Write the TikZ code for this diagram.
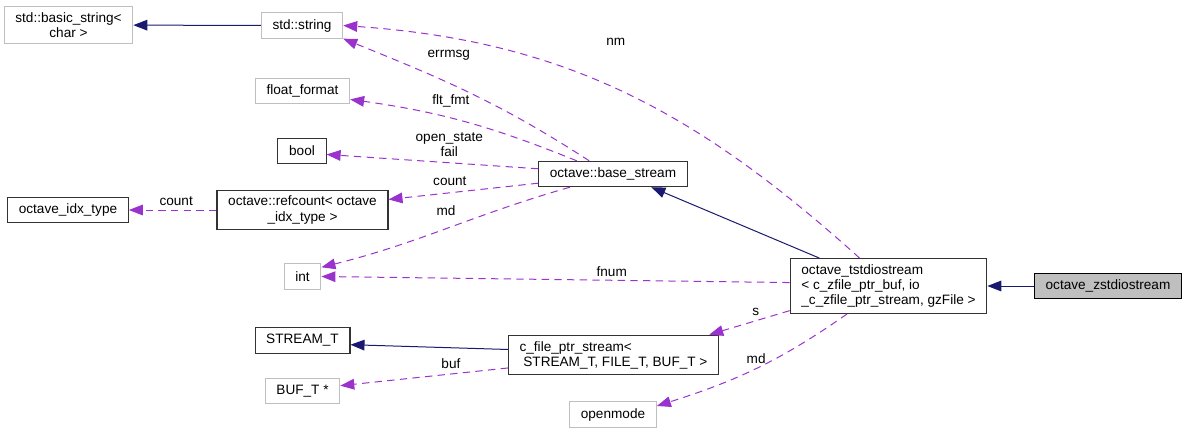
\documentclass[tikz,border=0pt]{standalone}
\usepackage{fontspec}
\setmainfont{Liberation Sans}
\usetikzlibrary{arrows.meta}
\definecolor{edgeviolet}{HTML}{9A32CD}
\definecolor{edgenavy}{HTML}{191970}
\definecolor{boxgrey}{HTML}{BFBFBF}
\tikzset{
  box/.style={
    rectangle, draw=black!80, line width=0.8pt, align=center,
    font=\fontsize{10.2}{11.3}\selectfont, inner xsep=8.4pt,
    inner ysep=4.5pt, minimum height=19pt},
  greybox/.style={box, draw=boxgrey},
  mainbox/.style={box, draw=black, fill=boxgrey},
  inherits/.style={-{Triangle[length=10.5pt,width=8pt]}, draw=edgenavy,
    line width=0.75pt},
  uses/.style={-{Triangle[length=10.5pt,width=8pt]}, draw=edgeviolet,
    dash pattern=on 5.5pt off 4pt, line width=0.75pt},
  lbl/.style={font=\fontsize{10.2}{11.3}\selectfont, text=black,
    inner sep=0pt, align=center}
}
\begin{document}
\begin{tikzpicture}[x=0.75pt, y=0.75pt]
\useasboundingbox (0,0) rectangle (1187,-433);

\node[greybox] (basic)    at (68.5,-25)   {std::basic\_string<\\char >};
\node[greybox] (string)   at (302,-25.5)  {std::string};
\node[greybox] (float)    at (302.5,-91)  {float\_format};
\node[box]     (bool)     at (302,-151)   {bool};
\node[box]     (idx)      at (68,-210)    {octave\_idx\_type};
\node[box]     (refcount) at (302.5,-210) {octave::refcount< octave\\\_idx\_type >};
\node[greybox] (int)      at (302.5,-276.5) {int};
\node[box]     (streamt)  at (302.5,-340.5) {STREAM\_T};
\node[greybox] (buft)     at (302.5,-391) {BUF\_T *};
\node[box]     (base)     at (613,-174)   {octave::base\_stream};
\node[box, align=left] (cfile) at (613.5,-355)
  {c\_file\_ptr\_stream<\\\hspace*{0.278em}STREAM\_T, FILE\_T, BUF\_T >};
\node[greybox] (openmode) at (613,-414.5) {openmode};
\node[box, align=left] (tstdio) at (888.5,-286)
  {octave\_tstdiostream\\< c\_zfile\_ptr\_buf, io\\\_c\_zfile\_ptr\_stream, gzFile >};
\node[mainbox] (zstdio)   at (1108,-286)  {octave\_zstdiostream};

\draw[inherits] (string) -- (basic);
\draw[uses] (tstdio.136) to[out=138,in=-4]
      node[lbl,pos=.5,xshift=-5pt,yshift=38pt]{nm} (string.east);
\draw[uses] (base.151) to[out=147,in=-22]
      node[lbl,pos=.6,xshift=1.5pt,yshift=20pt]{errmsg} (string.south east);
\draw[uses] (base.160) to[out=158,in=-8]
      node[lbl,pos=.57,yshift=13pt]{flt\_fmt} (float.-10);
\draw[uses] (base.176) -- node[lbl,pos=.42,yshift=13.5pt]{open\_state\\fail} (bool.-8);
\draw[uses] (base.187) -- node[lbl,pos=.59,yshift=9pt]{count} (refcount.7);
\draw[uses] (refcount) -- node[lbl,pos=.46,yshift=6.5pt]{count} (idx);
\draw[uses] (base.197) to[out=196,in=14]
      node[lbl,pos=.5,yshift=13.5pt]{md} (int.26);
\draw[uses] (tstdio.178) -- node[lbl,pos=.38,yshift=6.2pt]{fnum} (int.east);
\draw[inherits] (tstdio.158.5) -- (base.-19);
\draw[inherits] (zstdio) -- (tstdio);
\draw[uses] (tstdio.194) -- node[lbl,pos=.42,yshift=6.4pt]{s} (cfile.12);
\draw[uses] (tstdio.214) to[out=215,in=17.6]
      node[lbl,pos=.5,yshift=7.5pt]{md} (openmode.11);
\draw[inherits] (cfile.177) -- (streamt.-5);
\draw[uses] (cfile.187) -- node[lbl,pos=.34,yshift=8pt]{buf} (buft.8);

\end{tikzpicture}
\end{document}
